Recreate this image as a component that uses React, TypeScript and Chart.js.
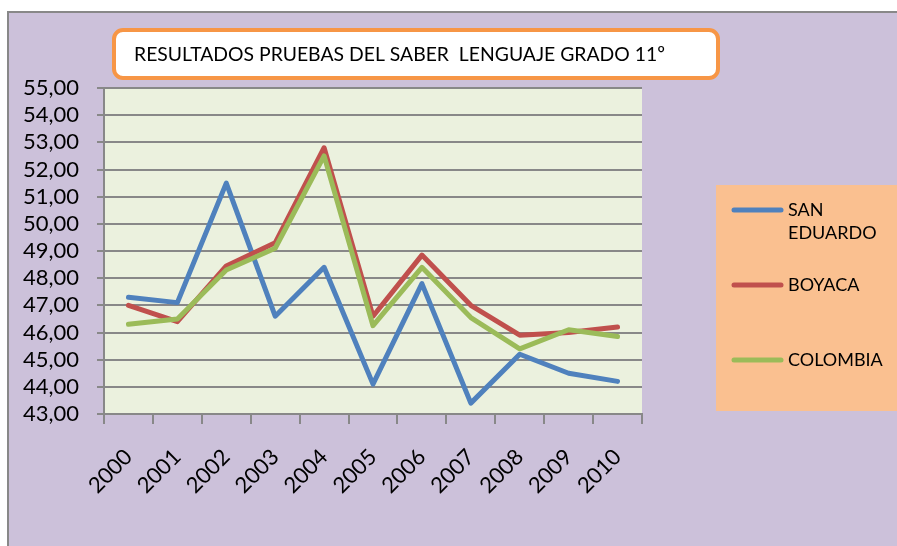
import React, { useEffect, useRef } from 'react';
import { Chart, registerables } from 'chart.js';

Chart.register(...registerables);

const years = ['2000', '2001', '2002', '2003', '2004', '2005', '2006', '2007', '2008', '2009', '2010'];
const sanEduardo = [47.3, 47.1, 51.5, 46.6, 48.4, 44.1, 47.8, 43.4, 45.2, 44.5, 44.2];
const boyaca = [47.0, 46.4, 48.45, 49.3, 52.8, 46.6, 48.85, 47.0, 45.9, 46.0, 46.2];
const colombia = [46.3, 46.5, 48.3, 49.1, 52.5, 46.25, 48.4, 46.55, 45.4, 46.1, 45.85];
const seriesLabels = ['SAN EDUARDO', 'BOYACA', 'COLOMBIA'];
const seriesColors = ['#4F81BD', '#C0504D', '#9BBB59'];
const titleText = 'RESULTADOS PRUEBAS DEL SABER  LENGUAJE GRADO 11º';
const yMin = 43;
const yMax = 55;
const yStep = 1;

const W = 897;
const H = 546;
const FONT = 'Lato, "Open Sans", sans-serif';
const GRID = '#888888';

function wrapWords(ctx: CanvasRenderingContext2D, text: string, maxWidth: number): string[] {
  const words = text.split(' ');
  const lines: string[] = [];
  let cur = '';
  for (const w of words) {
    const test = cur ? cur + ' ' + w : w;
    if (cur && ctx.measureText(test).width > maxWidth) {
      lines.push(cur);
      cur = w;
    } else {
      cur = test;
    }
  }
  if (cur) lines.push(cur);
  return lines;
}

const decorPlugin = {
  id: 'decor',
  beforeDraw(chart: any) {
    const ctx: CanvasRenderingContext2D = chart.ctx;
    ctx.save();
    ctx.fillStyle = '#ffffff';
    ctx.fillRect(0, 0, W, H);
    ctx.fillStyle = '#CCC1DA';
    ctx.fillRect(8, 11, W - 8, H - 11);
    ctx.strokeStyle = GRID;
    ctx.lineWidth = 2;
    ctx.beginPath();
    ctx.moveTo(8, H);
    ctx.lineTo(8, 12);
    ctx.lineTo(W, 12);
    ctx.stroke();

    const a = chart.chartArea;
    ctx.fillStyle = '#EBF1DE';
    ctx.fillRect(a.left, a.top, a.right - a.left, a.bottom - a.top);

    // title box
    ctx.beginPath();
    if ((ctx as any).roundRect) (ctx as any).roundRect(114, 30, 604, 48, 9);
    else ctx.rect(114, 30, 604, 48);
    ctx.fillStyle = '#ffffff';
    ctx.fill();
    ctx.lineWidth = 4;
    ctx.strokeStyle = '#F79646';
    ctx.stroke();

    ctx.font = `20px ${FONT}`;
    ctx.fillStyle = '#000000';
    ctx.textBaseline = 'middle';
    ctx.textAlign = 'left';
    const tw = ctx.measureText(titleText).width;
    const target = 531;
    ctx.save();
    ctx.translate(134, 55);
    ctx.scale(target / tw, 1);
    ctx.fillText(titleText, 0, 0);
    ctx.restore();

    // legend box
    ctx.fillStyle = '#FAC090';
    ctx.fillRect(716, 185, W - 716, 226);
    ctx.font = `18px ${FONT}`;
    chart.data.datasets.forEach((ds: any, i: number) => {
      const y = 210 + i * 75;
      ctx.strokeStyle = ds.borderColor;
      ctx.lineWidth = 5;
      ctx.lineCap = 'round';
      ctx.beginPath();
      ctx.moveTo(734, y);
      ctx.lineTo(781, y);
      ctx.stroke();
      const lines = wrapWords(ctx, ds.label, 100);
      ctx.fillStyle = '#000000';
      lines.forEach((ln, j) => ctx.fillText(ln, 788, y + j * 23.5));
    });
    ctx.restore();
  },
};

export default function App() {
  const ref = useRef<HTMLCanvasElement>(null);
  useEffect(() => {
    if (!ref.current) return;
    const seriesData = [sanEduardo, boyaca, colombia];
    const chart = new Chart(ref.current, {
      type: 'line',
      data: {
        labels: years,
        datasets: seriesData.map((d, i) => ({
          label: seriesLabels[i],
          data: d,
          borderColor: seriesColors[i],
          backgroundColor: seriesColors[i],
          borderWidth: 5,
          pointRadius: 0,
          pointHoverRadius: 0,
          tension: 0,
          borderCapStyle: 'round',
          borderJoinStyle: 'round',
          order: 3 - i,
        })),
      },
      options: {
        responsive: false,
        animation: false,
        layout: { padding: { left: 0, top: 88, right: 255, bottom: 0 } },
        plugins: {
          legend: { display: false },
          title: { display: false },
          tooltip: { enabled: false },
        },
        scales: {
          x: {
            type: 'category',
            offset: true,
            grid: {
              offset: true,
              drawOnChartArea: false,
              drawTicks: true,
              tickLength: 10,
              color: GRID,
              lineWidth: 2,
            },
            border: { display: true, color: GRID, width: 2 },
            ticks: {
              color: '#000000',
              font: { family: FONT, size: 22 },
              minRotation: 45,
              maxRotation: 45,
              autoSkip: false,
              padding: 20,
            },
            afterFit: (s: any) => {
              s.height = 132;
            },
          },
          y: {
            min: yMin,
            max: yMax,
            ticks: {
              stepSize: yStep,
              autoSkip: false,
              color: '#000000',
              font: { family: FONT, size: 22 },
              padding: 18,
              callback: (v: any) => Number(v).toFixed(2).replace('.', ','),
            },
            grid: { color: GRID, lineWidth: 2, tickLength: 7 },
            border: { display: true, color: GRID, width: 2 },
            afterFit: (s: any) => {
              s.width = 104;
            },
          },
        },
      },
      plugins: [decorPlugin],
    } as any);
    return () => chart.destroy();
  }, []);
  return (
    <div style={{ position: 'fixed', left: 0, top: 0, width: W, height: H }}>
      <canvas ref={ref} width={W} height={H} />
    </div>
  );
}
